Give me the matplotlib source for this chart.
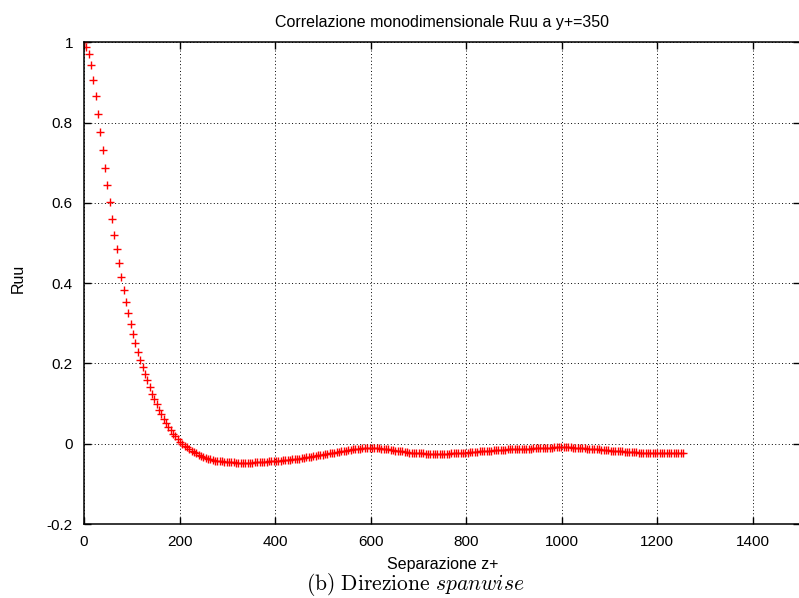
import numpy as np
import matplotlib
matplotlib.use("Agg")
import matplotlib.pyplot as plt

# spanwise correlation Ruu at y+=350, sampled every z_step wall units
z_step = 4.9
ruu = [
    1.000, 0.988, 0.971, 0.943, 0.906, 0.865, 0.821, 0.777, 0.731, 0.686,
    0.644, 0.601, 0.559, 0.520, 0.484, 0.449, 0.415, 0.382, 0.353, 0.326,
    0.299, 0.274, 0.252, 0.229, 0.209, 0.191, 0.173, 0.158, 0.141, 0.125,
    0.112, 0.098, 0.085, 0.073, 0.061, 0.051, 0.041, 0.033, 0.025, 0.018,
    0.011, 0.005, 0.000, -0.005, -0.009, -0.013, -0.018, -0.021, -0.024, -0.027,
    -0.030, -0.032, -0.035, -0.037, -0.038, -0.040, -0.042, -0.043, -0.044, -0.044,
    -0.045, -0.045, -0.046, -0.046, -0.046, -0.047, -0.047, -0.047, -0.047, -0.047,
    -0.047, -0.047, -0.047, -0.046, -0.046, -0.046, -0.046, -0.045, -0.045, -0.044,
    -0.044, -0.043, -0.043, -0.042, -0.042, -0.041, -0.041, -0.040, -0.040, -0.039,
    -0.039, -0.038, -0.037, -0.036, -0.035, -0.034, -0.033, -0.032, -0.031, -0.030,
    -0.029, -0.028, -0.027, -0.026, -0.025, -0.024, -0.023, -0.022, -0.021, -0.020,
    -0.019, -0.018, -0.017, -0.016, -0.015, -0.014, -0.013, -0.012, -0.012, -0.011,
    -0.011, -0.010, -0.010, -0.010, -0.010, -0.011, -0.011, -0.012, -0.012, -0.013,
    -0.014, -0.015, -0.016, -0.017, -0.018, -0.019, -0.019, -0.020, -0.021, -0.022,
    -0.022, -0.023, -0.023, -0.024, -0.024, -0.024, -0.025, -0.025, -0.025, -0.025,
    -0.025, -0.025, -0.025, -0.025, -0.025, -0.025, -0.025, -0.024, -0.024, -0.024,
    -0.024, -0.023, -0.023, -0.022, -0.022, -0.021, -0.021, -0.020, -0.020, -0.019,
    -0.019, -0.018, -0.018, -0.017, -0.017, -0.016, -0.016, -0.016, -0.015, -0.015,
    -0.015, -0.014, -0.014, -0.014, -0.013, -0.013, -0.013, -0.013, -0.012, -0.012,
    -0.012, -0.012, -0.011, -0.011, -0.011, -0.011, -0.010, -0.010, -0.010, -0.010,
    -0.010, -0.009, -0.009, -0.009, -0.009, -0.009, -0.009, -0.009, -0.009, -0.010,
    -0.010, -0.010, -0.010, -0.011, -0.011, -0.012, -0.012, -0.013, -0.013, -0.014,
    -0.014, -0.015, -0.015, -0.016, -0.016, -0.017, -0.017, -0.018, -0.018, -0.019,
    -0.019, -0.020, -0.020, -0.020, -0.021, -0.021, -0.021, -0.022, -0.022, -0.022,
    -0.022, -0.022, -0.023, -0.023, -0.023, -0.023, -0.023, -0.023, -0.023, -0.023,
    -0.023, -0.023, -0.023, -0.023, -0.023, -0.023, -0.023,
]
z = np.arange(len(ruu)) * z_step

x_ticks = [0, 200, 400, 600, 800, 1000, 1200, 1400]
y_ticks = [-0.2, 0, 0.2, 0.4, 0.6, 0.8, 1]
y_ticklabels = ["-0.2", "0", "0.2", "0.4", "0.6", "0.8", "1"]

plt.rcParams["font.family"] = ["Liberation Sans", "DejaVu Sans"]
plt.rcParams["mathtext.fontset"] = "cm"

W, H = 799, 598
fig = plt.figure(figsize=(W / 100, H / 100), dpi=100)
ax = fig.add_axes([84 / W, (H - 524) / H, (800.4 - 84) / W, (524 - 42.3) / H])

ax.plot(z, ruu, linestyle="none", marker="+", color="#ff0000",
        markersize=5.5, markeredgewidth=1.0)

ax.set_xlim(0, 1500)
ax.set_ylim(-0.2, 1)
ax.set_xticks(x_ticks)
ax.set_yticks(y_ticks)
ax.set_yticklabels(y_ticklabels)
ax.tick_params(direction="in", length=5, width=1, top=True, right=True,
               labelsize=11, pad=8)
for s in ax.spines.values():
    s.set_linewidth(1.1)
ax.grid(True, color="black", linestyle=(0, (1, 2.5)), linewidth=0.7)

ax.set_title("Correlazione monodimensionale Ruu a y+=350", fontsize=11.5, pad=11)
ax.set_xlabel("Separazione z+", fontsize=11.5)
ax.xaxis.set_label_coords(0.5, (524 - 557) / 481.7)
ax.set_ylabel("Ruu", fontsize=11.5)
ax.yaxis.set_label_coords((26 - 84) / 716.4, 0.51)

fig.text(415 / W, 1 - 584 / H, r"$\mathrm{(b)\ Direzione}\ \mathit{spanwise}$",
         fontsize=15.5, ha="center", va="center")

fig.savefig("out.png", dpi=100)
